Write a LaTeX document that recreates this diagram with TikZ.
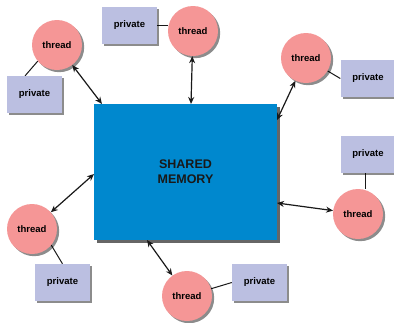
\documentclass[tikz,border=0pt]{standalone}
\usepackage{fontspec}
\setmainfont{Liberation Sans}
\usetikzlibrary{shadows,arrows.meta,calc,backgrounds}
\definecolor{thr}{RGB}{245,150,150}
\definecolor{prv}{RGB}{187,191,225}
\definecolor{memc}{RGB}{0,136,206}
\begin{document}
\begin{tikzpicture}[x=1pt,y=-1pt,
  shad/.style={drop shadow={shadow xshift=2.2pt,shadow yshift=-2.2pt,fill=black,opacity=0.45}},
  threadnode/.style={circle,fill=thr,minimum size=50pt,inner sep=0pt,
    font=\bfseries\fontsize{9.5}{11}\selectfont,shad},
  privnode/.style={rectangle,fill=prv,minimum width=55pt,minimum height=37pt,inner sep=0pt,
    font=\bfseries\fontsize{9.5}{11}\selectfont,shad},
  memnode/.style={rectangle,fill=memc,minimum width=183pt,minimum height=136pt,inner sep=0pt,
    align=center,font=\bfseries\fontsize{12.5}{15}\selectfont,text=black!90,
    drop shadow={shadow xshift=2.5pt,shadow yshift=-2.5pt,fill=black,opacity=0.6}},
  link/.style={draw=black!90,line width=1pt},
  arr/.style={draw=black!90,line width=1.2pt,{Stealth[length=7pt,width=6pt]}-{Stealth[length=7pt,width=6pt]}}]
\useasboundingbox (0,0) rectangle (394,322);
% shared memory
\node[memnode] (mem) at (185.5,172) {SHARED\\MEMORY};
% threads
\node[threadnode] (t1) at (57,45) {thread};
\node[threadnode] (t2) at (193,31) {thread};
\node[threadnode] (t3) at (306,58) {thread};
\node[threadnode] (t4) at (358,214) {thread};
\node[threadnode] (t5) at (187,296) {thread};
\node[threadnode] (t6) at (32,229) {thread};
% private boxes
\node[privnode] (p1) at (34.5,94.5) {private};
\node[privnode] (p2) at (129.5,25.5) {private};
\node[privnode] (p3) at (368,78.5) {private};
\node[privnode] (p4) at (368,154.5) {private};
\node[privnode] (p5) at (259.5,282.5) {private};
\node[privnode] (p6) at (62.5,282.5) {private};
% arrow ends on memory
\coordinate (a1) at (102,104);
\coordinate (a2) at (191,104);
\coordinate (a3) at (277,120);
\coordinate (a4) at (277,203);
\coordinate (a5) at (147,240);
\coordinate (a6) at (94,174);
\begin{scope}[on background layer]
  \fill[white] (0,0) rectangle (394,322);
  \draw[link] (t1.220) -- ($(p1.north west)!0.33!(p1.north east)$);
  \draw[link] (p2.east) -- (p2.east -| t2.west);
  \draw[link] (t3) -- (p3.west);
  \draw[link] ([xshift=-3pt]p4.south) -- ([xshift=-3pt]p4.south |- t4.north);
  \draw[link] (t5) -- (p5.west);
  \draw[link] (t6.-40) -- (p6.north);
\end{scope}
\draw[arr] (t1) -- (a1);
\draw[arr] (t2) -- (a2);
\draw[arr] (t3) -- (a3);
\draw[arr] (t4) -- (a4);
\draw[arr] (t5) -- (a5);
\draw[arr] (t6) -- (a6);
\end{tikzpicture}
\end{document}
